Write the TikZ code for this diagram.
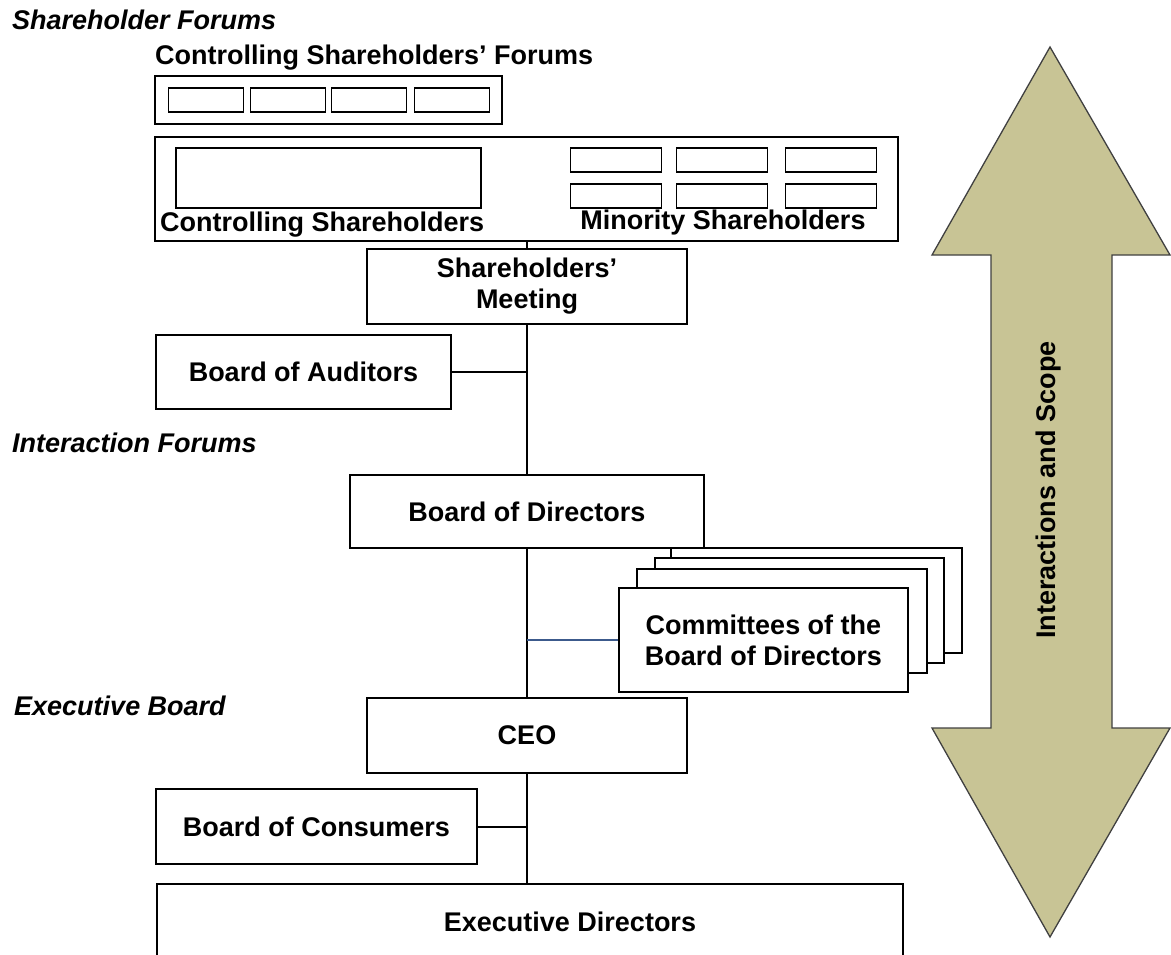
\documentclass[tikz,border=0pt]{standalone}
\usepackage{fontspec}
\setmainfont{Liberation Sans}
\usepackage{tikz}
\usetikzlibrary{calc}

\definecolor{scopekhaki}{RGB}{200,196,149}
\definecolor{linkblue}{RGB}{60,90,140}
\newcommand{\boxfont}{\fontsize{27}{31}\selectfont\bfseries}

\begin{document}
\begin{tikzpicture}[x=1pt,y=-1pt,
  box/.style={draw,line width=1.7pt,fill=white,inner sep=0pt,align=center,font=\boxfont},
  cell/.style={draw,line width=1.6pt,inner sep=0pt,minimum width=#1,minimum height=24},
  heading/.style={anchor=west,inner sep=0pt,font=\fontsize{27}{30}\selectfont\bfseries\itshape},
  caption/.style={inner sep=0pt,font=\boxfont},
  link/.style={line width=2pt}]

\useasboundingbox (0,0) rectangle (1171,955);

% section headings
\node[heading] (hshare) at (12,20) {Shareholder Forums};
\node[heading] (hinter) at (12,443) {Interaction Forums};
\node[heading] (hexec) at (14,706) {Executive Board};

% shareholders
\node[caption,anchor=west] (forumlabel) at (155,58) {Controlling Shareholders' Forums};
\node[box,minimum width=347,minimum height=48] (forums) at (328.5,100) {};
\foreach \x [count=\i] in {206,288,369,452}
  \node[cell=75] (forum\i) at (\x,100) {};

\node[box,minimum width=743,minimum height=104] (share) at (526.5,189) {};
\node[box,minimum width=305,minimum height=60] (ctrl) at (328.5,178) {};
\foreach \x [count=\i] in {616,722,831} {
  \node[cell=91] (minA\i) at (\x,160) {};
  \node[cell=91] (minB\i) at (\x,196) {};
}
\node[caption,anchor=west] (ctrllabel) at (160,225) {Controlling Shareholders};
\node[caption] (minlabel) at (723,223) {Minority Shareholders};

% boards
\node[box,minimum width=320,minimum height=75] (meeting) at (527,286.5) {Shareholders'\\Meeting};
\node[box,minimum width=295,minimum height=74] (auditors) at (303.5,372) {Board of Auditors};
\node[box,minimum width=354,minimum height=73] (bod) at (527,511.5) {Board of Directors};

% stacked committees
\node[box,minimum width=291,minimum height=105] (comm4) at (816.5,600.5) {};
\node[box,minimum width=289,minimum height=105] (comm3) at (799.5,610.5) {};
\node[box,minimum width=290,minimum height=104] (comm2) at (782,621) {};
\node[box,minimum width=289,minimum height=104] (comm) at (763.5,640) {Committees of the\\Board of Directors};

\node[box,minimum width=320,minimum height=75] (ceo) at (527,735.5) {CEO};
\node[box,minimum width=321,minimum height=75] (consumers) at (316.5,826.5) {Board of Consumers};
\node[box,anchor=north west,minimum width=746,minimum height=100] (exec) at (156,883) {};
\node[caption] (execlabel) at (570,922) {Executive Directors};

% connectors
\draw[link] (share.south -| meeting.north) -- (meeting.north);
\draw[link] (meeting.south) -- (bod.north);
\draw[link] (auditors.east) -- (auditors.east -| meeting.south);
\draw[link] (bod.south) -- (ceo.north);
\draw[linkblue,line width=1.8pt] (comm.west) -- (comm.west -| bod.south);
\draw[link] (ceo.south) -- (ceo.south |- exec.north);
\draw[link] (consumers.east) -- (consumers.east -| ceo.south);

% scope arrow
\draw[fill=scopekhaki,draw=black!75,line width=1.3pt,line join=miter]
  (1050,47) -- (1170,255) -- (1112,255) -- (1112,728) -- (1170,728) -- (1050,937)
  -- (932,728) -- (991,728) -- (991,255) -- (932,255) -- cycle;
\node[caption,rotate=90] (scope) at (1049,490) {Interactions and Scope};

\end{tikzpicture}
\end{document}
